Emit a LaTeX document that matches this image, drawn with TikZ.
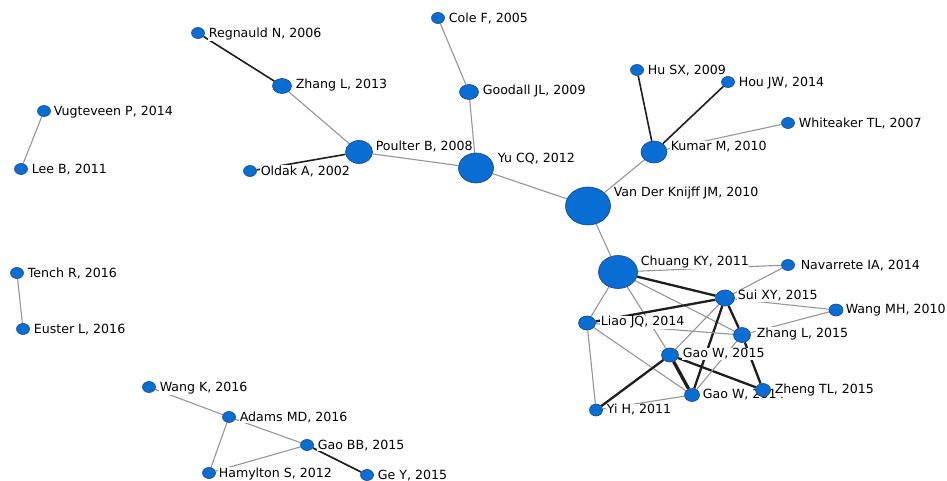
\documentclass[tikz,border=0pt]{standalone}
\usepackage{fontspec}
\setmainfont{DejaVu Sans}
\usetikzlibrary{shapes.geometric}
\pgfdeclarelayer{edgelayer}
\pgfdeclarelayer{labellayer}
\pgfsetlayers{edgelayer,labellayer,main}
\definecolor{nodeblue}{RGB}{8,110,212}
\definecolor{nodeedge}{RGB}{25,70,130}
\definecolor{edgegray}{RGB}{150,150,150}
\definecolor{edgedark}{RGB}{30,30,30}
\tikzset{
  gnode/.style={ellipse, fill=nodeblue, draw=nodeedge, line width=0.6pt, inner sep=0pt},
  lbl/.style={anchor=base west, inner sep=0.6pt, fill=white, font=\fontsize{12.6}{14}\selectfont, text=black},
  gedge/.style={draw=edgegray, line width=1.1pt},
  dedge/.style={draw=edgedark, line width=1.6pt},
  tedge/.style={draw=edgedark, line width=2.3pt},
  vtedge/.style={draw=edgedark, line width=3.3pt}
}
% name, x, y, rx, ry, label x, text
\newcommand{\gnn}[7]{%
  \node[gnode, minimum width=#4*2pt, minimum height=#5*2pt] (#1) at (#2,#3) {};
  \begin{pgfonlayer}{labellayer}
    \node[lbl] (#1-l) at (#6,#3-#5+9.8) {#7};
  \end{pgfonlayer}}
\begin{document}
\begin{tikzpicture}[x=1pt,y=-1pt]
\begin{pgfonlayer}{edgelayer}
  \fill[white] (0,0) rectangle (947,481);
\end{pgfonlayer}
\useasboundingbox (0,0) rectangle (947,481);
% nodes
\gnn{regn}{198}{33}{6.5}{5.5}{208}{Regnauld N, 2006}
\gnn{zl13}{282}{86}{9.5}{7.5}{295}{Zhang L, 2013}
\gnn{cole}{438}{18}{6.5}{5.5}{448}{Cole F, 2005}
\gnn{good}{469}{92}{9.5}{7.5}{482}{Goodall JL, 2009}
\gnn{poul}{359}{152}{13.5}{11.5}{375}{Poulter B, 2008}
\gnn{oldak}{250}{171}{6.5}{5.5}{260}{Oldak A, 2002}
\gnn{yucq}{476}{168}{17.5}{15}{497}{Yu CQ, 2012}
\gnn{husx}{637}{70}{6.5}{5.5}{647}{Hu SX, 2009}
\gnn{houjw}{728}{82}{6.5}{5.5}{738}{Hou JW, 2014}
\gnn{whit}{788}{123}{6.5}{5.5}{798}{Whiteaker TL, 2007}
\gnn{kumar}{654}{152}{13}{11}{670}{Kumar M, 2010}
\gnn{vdk}{588}{206}{22.5}{19}{613}{Van Der Knijff JM, 2010}
\gnn{vug}{44}{111}{6.5}{5.5}{53}{Vugteveen P, 2014}
\gnn{lee}{21}{169}{6.5}{5.5}{31}{Lee B, 2011}
\gnn{tench}{17}{273}{6.5}{5.5}{27}{Tench R, 2016}
\gnn{euster}{23}{329}{6.5}{5.5}{33}{Euster L, 2016}
\gnn{wangk}{149}{387}{6.5}{5.5}{159}{Wang K, 2016}
\gnn{adams}{229}{417}{6.5}{5.5}{239}{Adams MD, 2016}
\gnn{gaobb}{307}{445}{6.5}{5.5}{317}{Gao BB, 2015}
\gnn{hamy}{209}{473}{6.5}{5.5}{218}{Hamylton S, 2012}
\gnn{gey}{367}{475}{6.5}{5.5}{377}{Ge Y, 2015}
\gnn{chuang}{618}{272}{19.5}{16.5}{640}{Chuang KY, 2011}
\gnn{nav}{788}{265}{6.5}{5.5}{800}{Navarrete IA, 2014}
\gnn{sui}{725}{298}{9.5}{8}{737}{Sui XY, 2015}
\gnn{wangmh}{836}{310}{7}{6}{845}{Wang MH, 2010}
\gnn{liao}{587}{323}{8.5}{7}{600}{Liao JQ, 2014}
\gnn{zl15}{742}{335}{8.5}{7.5}{756}{Zhang L, 2015}
\gnn{gaow15}{670}{355}{8.5}{7}{682}{Gao W, 2015}
\gnn{gaow14}{692}{395}{7.5}{6.5}{702}{Gao W, 2014}
\gnn{zheng}{763}{390}{7.5}{6.5}{774}{Zheng TL, 2015}
\gnn{yih}{596}{410}{6.5}{6}{606}{Yi H, 2011}
% edges
\begin{pgfonlayer}{edgelayer}
  \draw[gedge] (vdk) -- (yucq);
  \draw[gedge] (vdk) -- (kumar);
  \draw[gedge] (vdk) -- (chuang);
  \draw[gedge] (yucq) -- (poul);
  \draw[gedge] (yucq) -- (good);
  \draw[gedge] (good) -- (cole);
  \draw[gedge] (poul) -- (zl13);
  \draw[dedge] (poul) -- (oldak);
  \draw[dedge] (zl13) -- (regn);
  \draw[dedge] (kumar) -- (husx);
  \draw[dedge] (kumar) -- (houjw);
  \draw[gedge] (kumar) -- (whit);
  \draw[gedge] (vug) -- (lee);
  \draw[gedge] (tench) -- (euster);
  \draw[gedge] (wangk) -- (adams);
  \draw[gedge] (adams) -- (gaobb);
  \draw[gedge] (adams) -- (hamy);
  \draw[gedge] (hamy) -- (gaobb);
  \draw[dedge] (gaobb) -- (gey);
  % dense cluster
  \draw[gedge] (chuang) -- (nav);
  \draw[tedge] (chuang) -- (sui);
  \draw[gedge] (chuang) -- (zl15);
  \draw[gedge] (chuang) -- (liao);
  \draw[gedge] (chuang) -- (gaow15);
  \draw[gedge] (nav) -- (sui);
  \draw[gedge] (sui) -- (wangmh);
  \draw[gedge] (wangmh) -- (zl15);
  \draw[tedge] (sui) -- (liao);
  \draw[tedge] (sui) -- (zl15);
  \draw[tedge] (sui) -- (gaow14);
  \draw[gedge] (sui) -- (gaow15);
  \draw[gedge] (liao) -- (zl15);
  \draw[gedge] (liao) -- (yih);
  \draw[gedge] (liao) -- (gaow14);
  \draw[tedge] (gaow15) -- (yih);
  \draw[vtedge] (gaow15) -- (gaow14);
  \draw[tedge] (gaow15) -- (zheng);
  \draw[gedge] (gaow14) -- (zl15);
  \draw[gedge] (gaow14) -- (yih);
  \draw[tedge] (zl15) -- (zheng);
\end{pgfonlayer}
\end{tikzpicture}
\end{document}
